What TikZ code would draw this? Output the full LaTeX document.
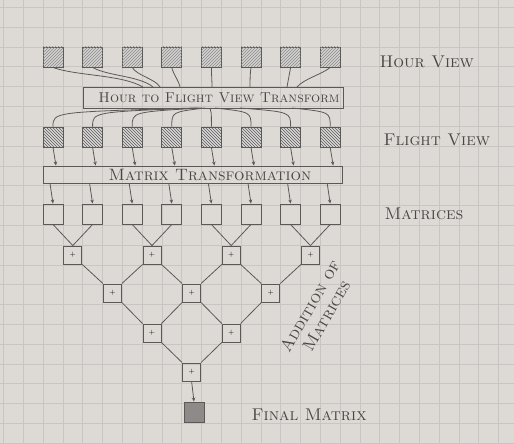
\documentclass[tikz,border=0pt]{standalone}
\usetikzlibrary{arrows.meta,patterns}
\definecolor{paper}{RGB}{221,218,213}
\definecolor{gridline}{RGB}{200,197,195}
\definecolor{pencil}{RGB}{92,88,86}
\tikzset{
  box/.style={draw=pencil, line width=0.9pt, minimum size=20pt, inner sep=0pt},
  hourbox/.style={box, fill=gray!35, postaction={pattern=north east lines, pattern color=pencil!70}},
  flightbox/.style={box, fill=gray!30, postaction={pattern=north west lines, pattern color=pencil}},
  plusbox/.style={box, minimum size=18pt, font=\scriptsize},
  widebox/.style={draw=pencil, line width=0.9pt, inner sep=0pt},
  boxtext/.style={text=pencil!80!black, font=\fontsize{14.3}{16}\selectfont\scshape},
  sidetext/.style={text=pencil!80!black, font=\fontsize{17}{19}\selectfont\scshape, anchor=west},
  wire/.style={draw=pencil, line width=0.8pt},
  arr/.style={wire, -{Stealth[length=4pt,width=3.5pt]}}
}
\begin{document}
\begin{tikzpicture}[x=1pt,y=1pt]
    \useasboundingbox (0,0) rectangle (514,-444);
    % grid paper
    \fill[paper] (0,0) rectangle (514,-444);
    \foreach \k in {0,...,25} {
        \draw[gridline, line width=0.6pt] (3.4+19.8*\k,0) -- (3.4+19.8*\k,-444);
    }
    \foreach \k in {0,...,22} {
        \draw[gridline, line width=0.6pt] (0,-7.4-19.8*\k) -- (514,-7.4-19.8*\k);
    }

    % rows of squares
    \foreach \i in {1,...,8} {
        \pgfmathsetmacro\cx{53+39.6*(\i-1)}
        \node[hourbox] (h\i) at (\cx,-57) {};
        \node[flightbox] (f\i) at (\cx,-137) {};
        \node[box] (m\i) at (\cx,-214) {};
    }
    \node[widebox, minimum width=260pt, minimum height=21pt] (hft) at (213,-97.5) {};
    \node[boxtext] (hftlabel) at (219,-98) {Hour to Flight View Transform};
    \node[widebox, minimum width=299pt, minimum height=17pt] (mt) at (192.5,-174.5) {};
    \node[boxtext, font=\fontsize{16.5}{18}\selectfont\scshape] (mtlabel) at (210,-175) {Matrix Transformation};

    % hour view into the transform
    \foreach \i/\tx/\o/\n in {1/143/-20/150, 2/153/-30/140, 3/160/-60/120, 4/180/-80/100,
                              5/212/-90/90, 6/250/-100/90, 7/287/-100/80, 8/297/-140/50}
        \draw[wire] (h\i.south) to[out=\o,in=\n,looseness=0.7] (\tx,-87);
    % transform out to flight view
    \foreach \i/\sx in {1/196, 2/199, 3/202, 4/205, 5/210, 6/215, 7/240, 8/292}
        \draw[wire] (\sx,-108) .. controls (f\i.north |- 0,-112) .. (f\i.north);

    % arrows through the matrix transformation
    \foreach \i in {1,...,8} {
        \draw[arr] (f\i.south) -- ([xshift=3pt]f\i.south |- mt.north);
        \draw[arr] ([xshift=-3pt]m\i.north |- mt.south) -- (m\i.north);
    }

    % addition tree
    \foreach \j/\cx in {1/72.8, 2/152, 3/231.2, 4/310.4}
        \node[plusbox] (a\j) at (\cx,-255) {+};
    \foreach \j/\cx in {1/112.4, 2/191.6, 3/270.8}
        \node[plusbox] (b\j) at (\cx,-293) {+};
    \foreach \j/\cx in {1/152, 2/231.2}
        \node[plusbox] (c\j) at (\cx,-333) {+};
    \node[plusbox] (d1) at (191.6,-372) {+};
    \node[box, fill=pencil!70] (final) at (194,-412) {};

    \foreach \j/\l/\r in {1/1/2, 2/3/4, 3/5/6, 4/7/8} {
        \draw[wire] (m\l.south) -- (a\j.north);
        \draw[wire] (m\r.south) -- (a\j.north);
    }
    \foreach \u/\l in {a1/b1, a2/b2, a3/b3, b1/c1, b2/c2, c1/d1}
        \draw[wire] (\u.south east) -- (\l.north west);
    \foreach \u/\l in {a2/b1, a3/b2, a4/b3, b2/c1, b3/c2, c2/d1}
        \draw[wire] (\u.south west) -- (\l.north east);
    \draw[arr] (d1.south) -- (final.north);

    % labels
    \node[sidetext] (hourlabel) at (376,-62) {Hour View};
    \node[sidetext] (flightlabel) at (380,-140) {Flight View};
    \node[sidetext] (matlabel) at (381,-214) {Matrices};
    \node[sidetext] (finallabel) at (248,-415) {Final Matrix};
    \node[sidetext, anchor=center, rotate=60, align=center] (addlabel) at (318,-311) {Addition of\\Matrices};
\end{tikzpicture}
\end{document}
